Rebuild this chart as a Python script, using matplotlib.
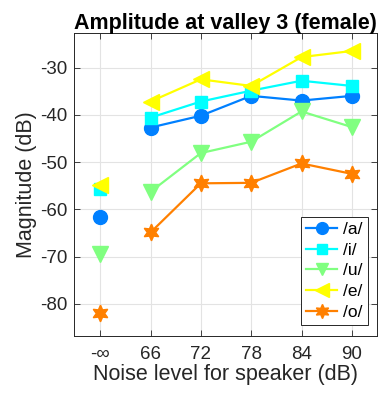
import matplotlib
matplotlib.use("Agg")
import matplotlib.pyplot as plt
from matplotlib.lines import Line2D

plt.rcParams['font.family'] = ['Liberation Sans', 'DejaVu Sans']
plt.rcParams['axes.unicode_minus'] = False

noise_labels = ['-\u221e', '66', '72', '78', '84', '90']
vowels = ['/a/', '/i/', '/u/', '/e/', '/o/']

amp_a = [-61.6, -42.7, -40.2, -36.0, -37.0, -36.0]
amp_i = [-55.6, -40.6, -37.2, -34.9, -32.8, -33.9]
amp_u = [-69.4, -56.3, -48.1, -45.7, -39.3, -42.6]
amp_e = [-54.9, -37.2, -32.5, -33.9, -27.8, -26.5]
amp_o = [-81.9, -64.9, -54.5, -54.4, -50.3, -52.5]

series = [amp_a, amp_i, amp_u, amp_e, amp_o]
colors = ['#0080ff', '#00ffff', '#80ff80', '#ffff00', '#ff8000']
markers = ['o', 's', 'v', '<', (6, 1, 0)]
msizes = [10, 9, 11, 12, 12]

fig = plt.figure(figsize=(3.87, 3.99), dpi=100)
ax = fig.add_axes([74/387, 1 - 336/399, (377-74)/387, (336-33)/399])

x = list(range(len(noise_labels)))
handles = []
for vals, c, m, ms, name in zip(series, colors, markers, msizes, vowels):
    # quiet condition drawn as an isolated marker, noisy conditions joined by a line
    ax.plot(x[1:], vals[1:], color=c, marker=m, markersize=ms, linewidth=1.6,
            markeredgecolor=c, zorder=3)
    ax.plot([x[0]], [vals[0]], color=c, marker=m, markersize=ms, linestyle='none',
            markeredgecolor=c, zorder=3)
    handles.append(Line2D([], [], color=c, marker=m, markersize=ms * 0.85, linewidth=1.6,
                          markeredgecolor=c, label=name))

ax.set_xlim(-0.52, 5.5)
ax.set_ylim(-86.8, -22.7)
ax.set_xticks(x)
ax.set_xticklabels(noise_labels)
ax.set_yticks([-80, -70, -60, -50, -40, -30])
ax.tick_params(direction='in', top=True, right=True, length=4, labelsize=13.5,
               colors='#262626', width=0.6, pad=5)
ax.tick_params(axis='x', pad=7)
ax.grid(True, color='#e3e3e3', linewidth=0.8)
ax.set_axisbelow(True)
for s in ax.spines.values():
    s.set_color('#262626')
    s.set_linewidth(0.7)

ax.set_xlabel('Noise level for speaker (dB)', fontsize=15.5, color='#262626', labelpad=1)
ax.set_ylabel('Magnitude (dB)', fontsize=15.5, color='#262626', labelpad=2)
ax.set_title('Amplitude at valley 3 (female)', fontsize=15.5, fontweight='bold', pad=3)

leg = ax.legend(handles=handles, loc='lower right', fontsize=12.5, handlelength=1.8,
                fancybox=False, framealpha=1, edgecolor='#262626',
                borderpad=0.3, labelspacing=0.32, handletextpad=0.35,
                borderaxespad=0, bbox_to_anchor=(0.97, 0.036))
leg.get_frame().set_linewidth(0.7)

fig.savefig('out.png', dpi=100)
